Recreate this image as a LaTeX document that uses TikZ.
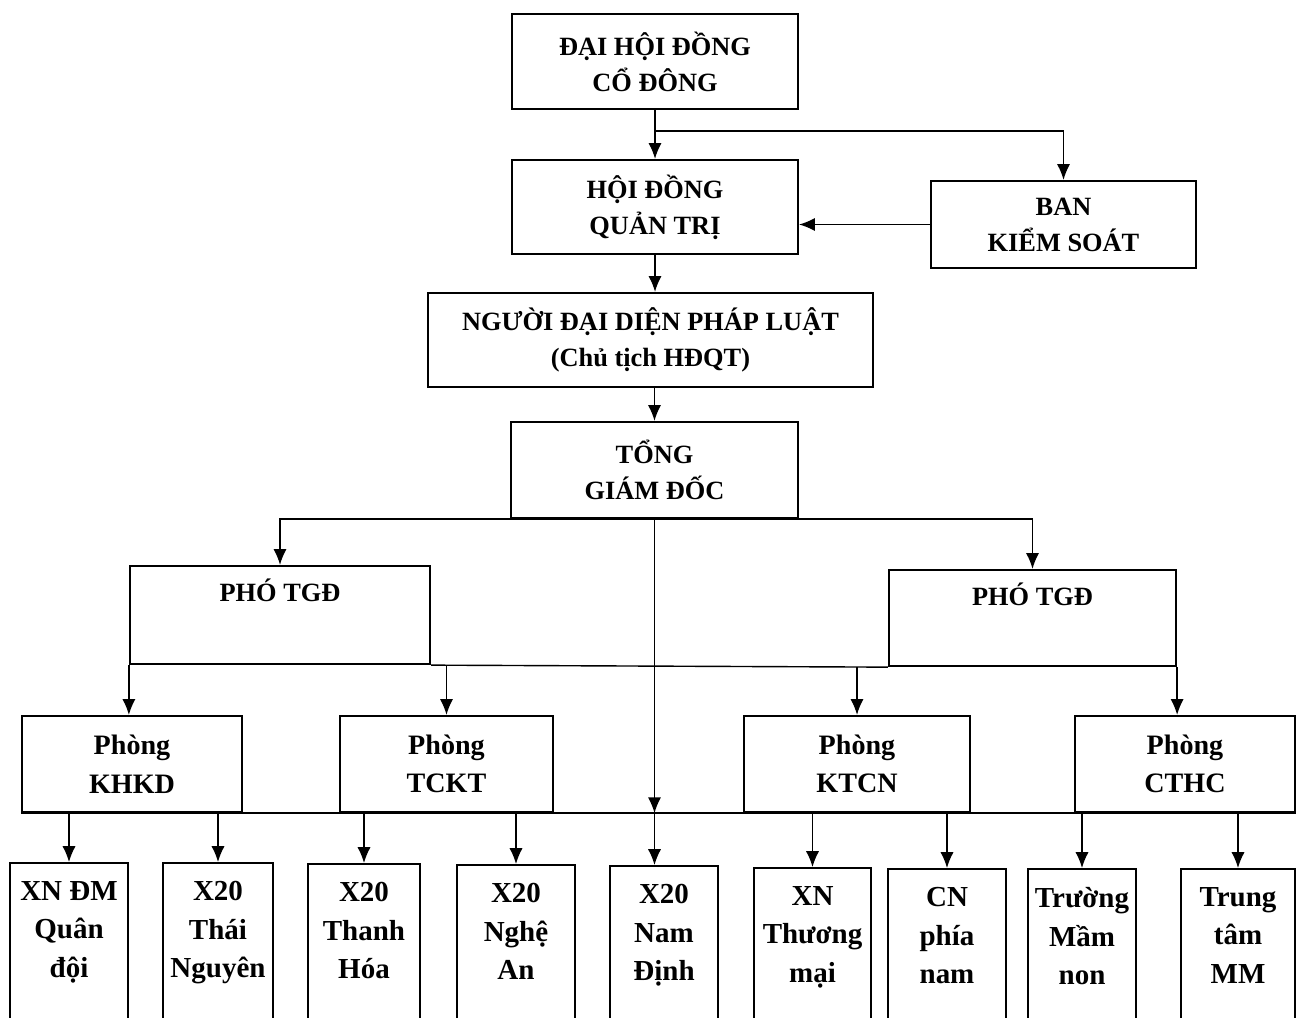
\documentclass[tikz,border=0pt]{standalone}
\usepackage{fontspec}
\setmainfont{Liberation Serif}
\usetikzlibrary{arrows.meta,positioning}
\tikzset{
  basic-style/.style = {
    rectangle, draw, line width=1.3pt,
    align=center, inner sep=0pt
  },
  head-style/.style = {
    basic-style,
    font=\bfseries\fontsize{15}{20.5}\selectfont
  },
  dept-style/.style = {
    basic-style,
    font=\bfseries\fontsize{16}{22}\selectfont
  },
  unit-style/.style = {
    basic-style, anchor=north,
    minimum height=3.6cm
  },
  vice-text/.style = {
    anchor=base, inner sep=0pt, yshift=-0.74cm,
    font=\bfseries\fontsize{15}{20.5}\selectfont
  },
  unit-text/.style = {
    anchor=north, inner sep=0pt, yshift=-0.38cm, align=center,
    font=\bfseries\fontsize{16.5}{22}\selectfont
  },
  line-style/.style = {draw, line width=0.8pt},
  arrow-style/.style = {line-style, -{Latex[length=9pt,width=7.5pt]}},
  every edge/.style = {arrow-style}
}

\begin{document}
\begin{tikzpicture}[x=0.02cm, y=-0.02cm]
    \useasboundingbox (0,0) rectangle (1304,1017);
    \clip (0,0) rectangle (1304,1017);

    %%% top levels
    \node[head-style, minimum width=5.72cm, minimum height=1.9cm] (dhd) at (655,61.5) {ĐẠI HỘI ĐỒNG\\CỔ ĐÔNG};
    \node[head-style, minimum width=5.72cm, minimum height=1.88cm] (hdqt) at (655,207) {HỘI ĐỒNG\\QUẢN TRỊ};
    \node[head-style, minimum width=5.3cm, minimum height=1.74cm] (bks) at (1063.5,224.5) {BAN\\KIỂM SOÁT};
    \node[head-style, minimum width=8.9cm, minimum height=1.88cm] (ndd) at (650.5,340) {NGƯỜI ĐẠI DIỆN PHÁP LUẬT\\(Chủ tịch HĐQT)};
    \node[head-style, minimum width=5.74cm, minimum height=1.92cm] (tgd) at (654.5,470) {TỔNG\\GIÁM ĐỐC};

    %%% deputies
    \node[head-style, minimum width=6cm, minimum height=1.96cm, label={[vice-text]north:PHÓ TGĐ}] (ptl) at (280,615) {};
    \node[head-style, minimum width=5.74cm, minimum height=1.92cm, label={[vice-text]north:PHÓ TGĐ}] (ptr) at (1032.5,618) {};

    %%% departments
    \node[dept-style, minimum width=4.4cm, minimum height=1.92cm] (pkhkd) at (132,764) {Phòng\\KHKD};
    \node[dept-style, minimum width=4.26cm, minimum height=1.92cm] (ptckt) at (446.5,764) {Phòng\\TCKT};
    \node[dept-style, minimum width=4.52cm, minimum height=1.92cm] (pktcn) at (857,764) {Phòng\\KTCN};
    \node[dept-style, minimum width=4.4cm, minimum height=1.92cm] (pcthc) at (1185,764) {Phòng\\CTHC};

    %%% units
    \node[unit-style, minimum width=2.36cm, label={[unit-text]north:XN ĐM\\Quân\\đội}] (u1) at (69,862) {};
    \node[unit-style, minimum width=2.2cm, label={[unit-text]north:X20\\Thái\\Nguyên}] (u2) at (218,862) {};
    \node[unit-style, minimum width=2.24cm, label={[unit-text]north:X20\\Thanh\\Hóa}] (u3) at (364,863) {};
    \node[unit-style, minimum width=2.36cm, label={[unit-text]north:X20\\Nghệ\\An}] (u4) at (516,864) {};
    \node[unit-style, minimum width=2.16cm, label={[unit-text]north:X20\\Nam\\Định}] (u5) at (664,865) {};
    \node[unit-style, minimum width=2.34cm, label={[unit-text]north:XN\\Thương\\mại}] (u6) at (812.5,867) {};
    \node[unit-style, minimum width=2.36cm, label={[unit-text]north:CN\\phía\\nam}] (u7) at (947,868) {};
    \node[unit-style, minimum width=2.16cm, label={[unit-text]north:Trường\\Mầm\\non}] (u8) at (1082,868) {};
    \node[unit-style, minimum width=2.28cm, label={[unit-text]north:Trung\\tâm\\MM}] (u9) at (1238,868) {};

    %%% arrows
    % shareholders to board and control
    \path (dhd) edge (hdqt);
    \coordinate (j1) at ([yshift=-0.42cm]dhd.south);
    \draw[arrow-style] (j1) -| (bks.north);
    \path (bks.west) edge (bks.west -| hdqt.east);
    % board down to director
    \path (hdqt.south) edge (hdqt.south |- ndd.north);
    \path (tgd.north |- ndd.south) edge (tgd.north);
    % director to deputies
    \draw[arrow-style] (tgd.south) -| (ptl.north);
    \draw[arrow-style] (tgd.south) -| (ptr.north);
    % deputies to departments
    \draw[line-style] (ptl.south east) -- (ptr.south west);
    \path (ptl.south west) edge (ptl.south west |- pkhkd.north);
    \path (ptckt.north |- ptl.south) edge (ptckt.north);
    \path (pktcn.north |- ptr.south) edge (pktcn.north);
    \path (ptr.south east) edge (ptr.south east |- pcthc.north);
    % departments to units
    \draw[line-style] (pkhkd.south west) -- (pcthc.south east);
    \path (tgd.south) edge (tgd.south |- pkhkd.south);
    \path (tgd.south |- pkhkd.south) edge (tgd.south |- u5.north);
    \path (u1.north |- pkhkd.south) edge (u1.north);
    \path (u2.north |- pkhkd.south) edge (u2.north);
    \path (u3.north |- pkhkd.south) edge (u3.north);
    \path (u4.north |- pkhkd.south) edge (u4.north);
    \path (u6.north |- pkhkd.south) edge (u6.north);
    \path (u7.north |- pkhkd.south) edge (u7.north);
    \path (u8.north |- pkhkd.south) edge (u8.north);
    \path (u9.north |- pkhkd.south) edge (u9.north);
\end{tikzpicture}
\end{document}
